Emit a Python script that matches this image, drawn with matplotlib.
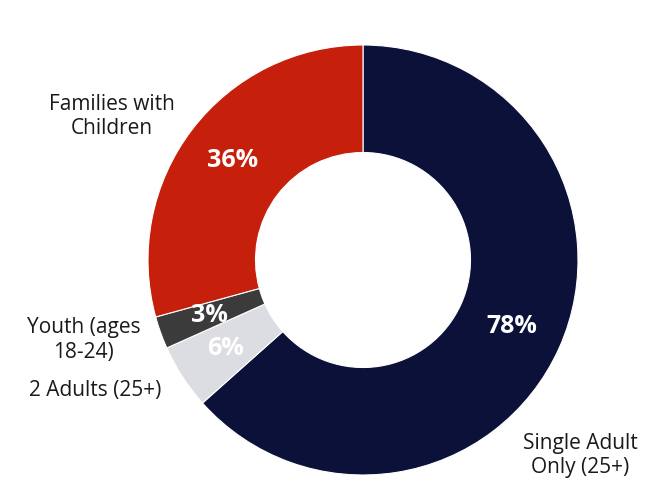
import numpy as np
import matplotlib
matplotlib.use("Agg")
import matplotlib.pyplot as plt

plt.rcParams['font.family'] = ['Open Sans', 'DejaVu Sans']

# Share of people experiencing homelessness, by household type
categories = ["Single Adult\nOnly (25+)", "2 Adults (25+)", "Youth (ages\n18-24)", "Families with\nChildren"]
shares = [78, 6, 3, 36]
colors = ["#0c113a", "#dcdde2", "#3b3b3b", "#c61f0b"]

# where each name sits: angle (deg, None = middle of the wedge), radius, alignment
name_spots = [(-42, 1.36, "center"), (None, 1.12, "right"), (None, 1.1, "right"), (None, 1.1, "right")]


def plot_donut():
    fig = plt.figure(figsize=(6.55, 4.82), dpi=100)
    ax = fig.add_axes([0, 0, 1, 1])

    wedges, _ = ax.pie(shares, colors=colors, startangle=90, counterclock=False,
                       radius=1.0, wedgeprops=dict(width=0.5, edgecolor="white", linewidth=0.8))

    for w, val, name, (ang, lr, ha) in zip(wedges, shares, categories, name_spots):
        mid = np.deg2rad((w.theta1 + w.theta2) / 2)
        # percentage inside the ring
        ax.text(0.76 * np.cos(mid), 0.76 * np.sin(mid), f"{val}%", color="white",
                fontsize=18, fontweight="bold", ha="center", va="center")
        # category name outside the ring
        a = mid if ang is None else np.deg2rad(ang)
        ax.text(lr * np.cos(a), lr * np.sin(a), name, fontsize=15, color="#1a1a1a",
                ha=ha, va="center", multialignment="center", linespacing=1.2)

    # keep the ring centred where it sits on the page
    ax.set_xlim(-363 / 215, (655 - 363) / 215)
    ax.set_ylim(-222 / 215, 260 / 215)
    ax.set_axis_off()

    fig.savefig("out.png", dpi=100)
    plt.close(fig)


if __name__ == "__main__":
    plot_donut()
